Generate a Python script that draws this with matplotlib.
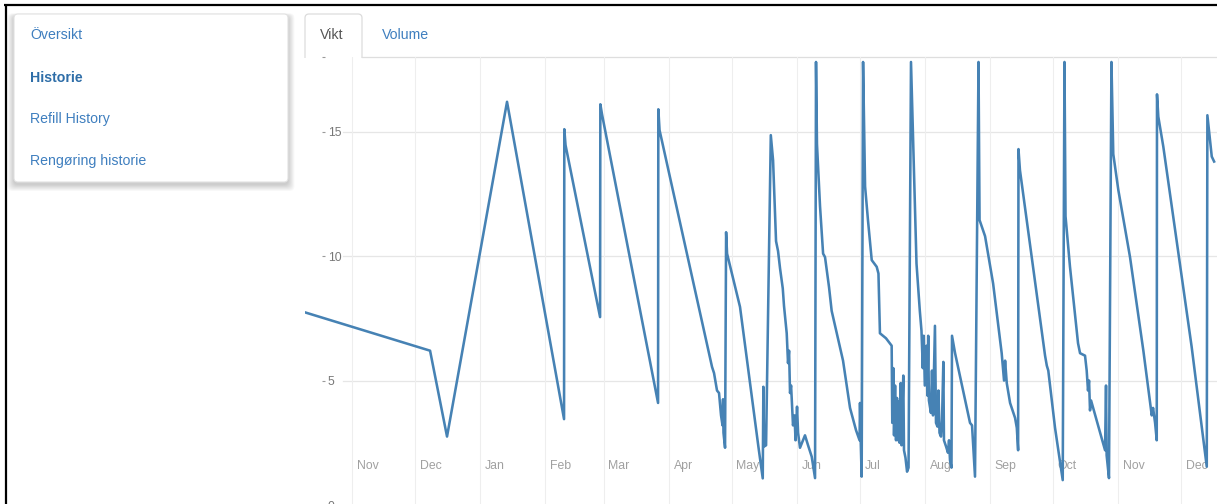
import matplotlib
matplotlib.use('Agg')
import matplotlib.pyplot as plt
from matplotlib.patches import FancyBboxPatch, Rectangle
from matplotlib.transforms import ScaledTranslation
import pandas as pd

plt.rcParams['font.family'] = ['Liberation Sans', 'DejaVu Sans']

# ---------------- data ----------------
timestamps = [
    '2016-10-07 06:00', '2016-12-08 04:00', '2016-12-16 06:00', '2017-01-13 20:00',
    '2017-02-10 00:00', '2017-02-10 03:00', '2017-02-10 17:00', '2017-02-27 04:00',
    '2017-02-27 07:00', '2017-02-28 02:00', '2017-03-26 19:00', '2017-03-26 22:00',
    '2017-03-27 12:00', '2017-04-21 12:00', '2017-04-22 11:00', '2017-04-23 21:00',
    '2017-04-24 20:00', '2017-04-25 19:00', '2017-04-26 12:00', '2017-04-26 18:00',
    '2017-04-26 23:00', '2017-04-27 17:00', '2017-04-28 05:00', '2017-04-28 16:00',
    '2017-05-04 20:00', '2017-05-13 14:00', '2017-05-15 16:00', '2017-05-15 23:00',
    '2017-05-16 07:00', '2017-05-17 06:00', '2017-05-19 12:00', '2017-05-20 14:00',
    '2017-05-22 00:00', '2017-05-22 23:00', '2017-05-23 22:00', '2017-05-25 05:00',
    '2017-05-25 19:00', '2017-05-27 02:00', '2017-05-27 17:00', '2017-05-28 05:00',
    '2017-05-28 16:00', '2017-05-29 04:00', '2017-05-30 02:00', '2017-05-30 19:00',
    '2017-05-31 07:00', '2017-06-01 00:00', '2017-06-01 12:00', '2017-06-02 10:00',
    '2017-06-04 19:00', '2017-06-06 06:00', '2017-06-08 00:00', '2017-06-09 14:00',
    '2017-06-10 01:00', '2017-06-10 12:00', '2017-06-11 23:00', '2017-06-13 10:00',
    '2017-06-14 08:00', '2017-06-16 06:00', '2017-06-17 12:00', '2017-06-22 22:00',
    '2017-06-26 06:00', '2017-06-29 03:00', '2017-06-30 19:00', '2017-07-01 00:00',
    '2017-07-01 08:00', '2017-07-01 19:00', '2017-07-02 11:00', '2017-07-03 10:00',
    '2017-07-04 19:00', '2017-07-06 14:00', '2017-07-08 23:00', '2017-07-09 19:00',
    '2017-07-10 12:00', '2017-07-13 09:00', '2017-07-16 02:00', '2017-07-16 09:00',
    '2017-07-16 21:00', '2017-07-17 05:00', '2017-07-17 17:00', '2017-07-18 04:00',
    '2017-07-18 15:00', '2017-07-19 03:00', '2017-07-19 09:00', '2017-07-19 20:00',
    '2017-07-20 09:00', '2017-07-20 19:00', '2017-07-21 15:00', '2017-07-21 23:00',
    '2017-07-22 16:00', '2017-07-23 10:00', '2017-07-24 03:00', '2017-07-25 07:00',
    '2017-07-27 22:00', '2017-07-29 12:00', '2017-07-30 07:00', '2017-07-30 22:00',
    '2017-07-31 09:00', '2017-07-31 21:00', '2017-08-01 17:00', '2017-08-02 02:00',
    '2017-08-02 12:00', '2017-08-02 20:00', '2017-08-03 19:00', '2017-08-04 07:00',
    '2017-08-04 19:00', '2017-08-05 17:00', '2017-08-06 05:00', '2017-08-06 22:00',
    '2017-08-07 09:00', '2017-08-07 21:00', '2017-08-08 14:00', '2017-08-09 02:00',
    '2017-08-09 17:00', '2017-08-10 00:00', '2017-08-11 00:00', '2017-08-11 22:00',
    '2017-08-12 10:00', '2017-08-12 21:00', '2017-08-13 14:00', '2017-08-13 20:00',
    '2017-08-15 07:00', '2017-08-22 10:00', '2017-08-23 09:00', '2017-08-24 19:00',
    '2017-08-26 11:00', '2017-08-26 23:00', '2017-08-29 14:00', '2017-08-31 00:00',
    '2017-09-02 10:00', '2017-09-06 12:00', '2017-09-07 15:00', '2017-09-08 03:00',
    '2017-09-08 22:00', '2017-09-10 12:00', '2017-09-12 21:00', '2017-09-13 17:00',
    '2017-09-14 08:00', '2017-09-14 12:00', '2017-09-15 05:00', '2017-09-27 04:00',
    '2017-09-28 00:00', '2017-09-28 17:00', '2017-10-01 22:00', '2017-10-05 14:00',
    '2017-10-06 10:00', '2017-10-06 22:00', '2017-10-09 01:00', '2017-10-10 12:00',
    '2017-10-12 21:00', '2017-10-13 20:00', '2017-10-16 05:00', '2017-10-17 00:00',
    '2017-10-17 15:00', '2017-10-18 03:00', '2017-10-18 14:00', '2017-10-19 02:00',
    '2017-10-25 18:00', '2017-10-26 05:00', '2017-10-26 12:00', '2017-10-27 15:00',
    '2017-10-28 19:00', '2017-10-29 16:00', '2017-11-01 02:00', '2017-11-06 15:00',
    '2017-11-13 00:00', '2017-11-17 00:00', '2017-11-17 15:00', '2017-11-18 14:00',
    '2017-11-19 09:00', '2017-11-19 12:00', '2017-11-20 03:00', '2017-11-22 12:00',
    '2017-12-06 00:00', '2017-12-13 05:00', '2017-12-13 12:00', '2017-12-15 14:00',
    '2017-12-16 17:00',
]
weights = [
    7.8, 6.2, 2.75, 16.2,
    3.45, 15.1, 14.46, 7.55,
    16.1, 15.7, 4.1, 15.9,
    15.06, 5.55, 5.3, 4.6,
    4.5, 3.6, 3.2, 4.25,
    2.9, 2.3, 10.96, 10.1,
    7.96, 2.35, 1.07, 4.75,
    2.35, 2.4, 14.86, 13.85,
    10.6, 10.2, 9.5, 8.7,
    8.0, 6.9, 5.7, 6.2,
    4.5, 4.8, 3.2, 3.6,
    2.6, 3.95, 2.9, 2.3,
    2.8, 2.4, 1.94, 1.08,
    17.8, 14.5, 12.0, 10.1,
    9.96, 8.75, 7.8, 5.8,
    3.9, 3.0, 2.6, 4.1,
    2.6, 1.14, 17.8, 12.8,
    11.45, 9.84, 9.57, 9.3,
    6.9, 6.7, 6.4, 3.3,
    5.5, 2.8, 4.8, 2.6,
    4.3, 2.6, 4.15, 2.5,
    4.9, 2.4, 5.2, 2.2,
    1.9, 1.34, 1.5, 17.8,
    9.7, 7.8, 7.0, 5.5,
    6.8, 4.8, 6.4, 4.4,
    6.8, 4.2, 3.7, 5.4,
    3.6, 7.2, 3.3, 3.15,
    4.6, 2.9, 2.75, 3.4,
    5.75, 2.6, 2.35, 2.1,
    2.6, 1.8, 1.5, 6.8,
    6.1, 3.3, 3.2, 1.14,
    17.8, 11.45, 10.8, 10.1,
    8.9, 6.1, 5.0, 5.8,
    4.9, 4.1, 3.5, 3.1,
    2.2, 14.3, 13.45, 6.0,
    5.6, 5.4, 3.1, 1.0,
    17.8, 11.6, 9.57, 8.4,
    6.5, 6.1, 6.0, 5.4,
    4.6, 5.0, 3.8, 4.2,
    2.2, 4.8, 2.0, 1.08,
    17.8, 14.1, 12.65, 9.97,
    6.2, 3.6, 3.9, 3.3,
    2.6, 16.5, 15.6, 14.4,
    6.36, 1.54, 15.66, 14.0,
    13.8,
]
month_ticks = ['2016-11-01', '2016-12-01', '2017-01-01', '2017-02-01', '2017-03-01',
               '2017-04-01', '2017-05-01', '2017-06-01', '2017-07-01', '2017-08-01',
               '2017-09-01', '2017-10-01', '2017-11-01', '2017-12-01']
month_labels = ['Nov', 'Dec', 'Jan', 'Feb', 'Mar', 'Apr', 'May', 'Jun', 'Jul',
                'Aug', 'Sep', 'Oct', 'Nov', 'Dec']
y_ticks = [0, 5, 10, 15, 18]
y_labels = ['0', '5', '10', '15', '']
x_range = ['2016-10-09 14:00', '2017-12-18 02:00']
y_range = [0, 18]
nav_items = ['Översikt', 'Historie', 'Refill History', 'Rengøring historie']
active_nav = 'Historie'
tab_labels = ['Vikt', 'Volume']

# ---------------- figure ----------------
W, H = 1217, 504
fig = plt.figure(figsize=(W / 100, H / 100), dpi=100)
fig.patch.set_facecolor('white')

bg = fig.add_axes([0, 0, 1, 1], zorder=0)
bg.set_xlim(0, W)
bg.set_ylim(H, 0)
bg.axis('off')

LINK = '#3f7fbf'

# black frame of the screenshot
bg.plot([5.5, 5.5], [4, H], color='black', lw=1.6, solid_capstyle='butt')
bg.plot([4, W], [5, 5], color='black', lw=1.6, solid_capstyle='butt')

# sidebar card with soft shadow
for k in range(10):
    e = 1.0 + k * 1.1
    bg.add_patch(FancyBboxPatch((14 - e * 0.6, 14 + 2.5 - e * 0.3), 274 + e * 1.2, 168 + e * 0.9,
                                boxstyle='round,pad=0,rounding_size=5',
                                fc='black', ec='none', alpha=0.02, zorder=1))
bg.add_patch(FancyBboxPatch((14, 14), 274, 168, boxstyle='round,pad=0,rounding_size=4',
                            fc='white', ec='#e2e2e2', lw=0.8, zorder=2))
nav_y = [35, 77.5, 119.5, 161.5]
for label, yy in zip(nav_items, nav_y):
    bold = label == active_nav
    bg.text(30, yy, label, fontsize=10.2, color='#2f6ea8' if bold else LINK,
            fontweight='bold' if bold else 'normal', va='center', ha='left', zorder=3)

# tabs
bg.add_patch(FancyBboxPatch((305, 14), 57, 60, boxstyle='round,pad=0,rounding_size=4',
                            fc='white', ec='#dcdcdc', lw=0.9, zorder=2))
bg.add_patch(Rectangle((300, 57.6), 70, 30, fc='white', ec='none', zorder=3))
bg.plot([361.5, W], [57, 57], color='#dedede', lw=0.9, zorder=4)
bg.text(320, 35, tab_labels[0], fontsize=10.2, color='#555555', va='center', ha='left', zorder=5)
bg.text(381.5, 35, tab_labels[1], fontsize=10.2, color=LINK, va='center', ha='left', zorder=5)

# ---------------- chart ----------------
ax = fig.add_axes([305 / W, -1 / H, 912 / W, 448 / H], zorder=2)
ax.patch.set_visible(False)
ts = pd.to_datetime(timestamps)
ax.plot(ts, weights, color='#4682b4', lw=1.85, solid_joinstyle='round', zorder=3)
ax.set_xlim(pd.to_datetime(x_range[0]), pd.to_datetime(x_range[1]))
ax.set_ylim(*y_range)

for s in ax.spines.values():
    s.set_visible(False)

# x axis: month labels inside the plot, right of the gridline
ax.set_xticks(pd.to_datetime(month_ticks))
ax.set_xticklabels(month_labels)
ax.tick_params(axis='x', length=0, pad=-28, labelsize=8.8, labelcolor='#a0a0a0')
off = ScaledTranslation(4.5 / 100, 0, fig.dpi_scale_trans)
for lab in ax.get_xticklabels():
    lab.set_horizontalalignment('left')
    lab.set_verticalalignment('center')
    lab.set_transform(lab.get_transform() + off)
ax.grid(axis='x', color='#eeeeee', lw=0.8, zorder=0)

# y axis drawn inside the plot
ax.yaxis.tick_right()
ax.spines['right'].set_position(('axes', 16.5 / 912))
ax.set_yticks(y_ticks)
ax.set_yticklabels(y_labels)
ax.tick_params(axis='y', direction='out', length=2.4, width=0.8, color='#9a9a9a',
               pad=2.2, labelsize=8.8, labelcolor='#777777')
for v in y_ticks[1:-1]:
    ax.axhline(v, xmin=38 / 912, xmax=1, color='#e6e6e6', lw=0.9, zorder=1)

fig.savefig('out.png', dpi=100)
